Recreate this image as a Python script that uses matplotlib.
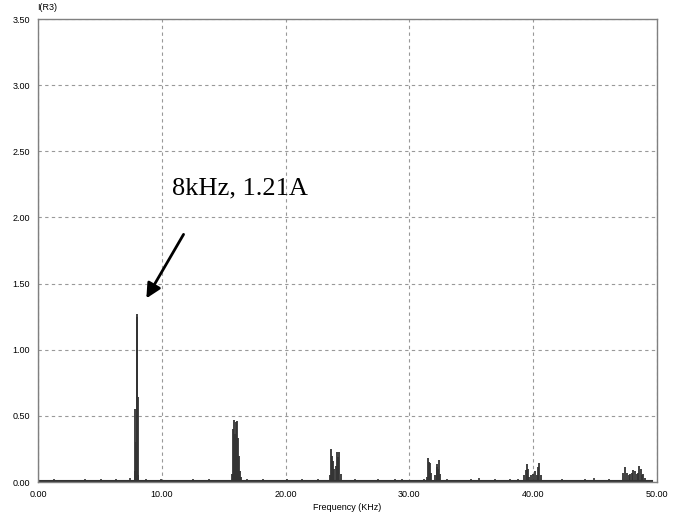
import matplotlib
matplotlib.use("Agg")
import matplotlib.pyplot as plt

# spectrum of I(R3): spikes
dc_freq = [0.03]
dc_amp = [3.17]

peak_freq = [7.80, 7.86, 7.92, 7.96, 8.00, 8.04, 8.10,
             15.70, 15.78, 15.85, 15.92, 16.00, 16.05, 16.12, 16.20, 16.30, 16.40,
             23.55, 23.64, 23.72, 23.80, 23.90, 24.05, 24.18, 24.26, 24.34, 24.45,
             31.45, 31.53, 31.60, 31.66, 31.75, 32.10, 32.20, 32.25, 32.33, 32.41, 32.50,
             39.28, 39.40, 39.47, 39.55, 39.65, 39.85, 40.00, 40.17, 40.30, 40.42, 40.50, 40.60,
             47.28, 47.41, 47.55, 47.70, 47.85, 47.95, 48.08, 48.22, 48.35, 48.45, 48.57, 48.68,
             48.80, 48.90, 49.00]
peak_amp = [0.08, 0.55, 0.30, 1.27, 1.25, 0.64, 0.05,
            0.06, 0.40, 0.47, 0.36, 0.45, 0.46, 0.33, 0.20, 0.08, 0.04,
            0.05, 0.25, 0.20, 0.16, 0.10, 0.12, 0.23, 0.19, 0.23, 0.06,
            0.04, 0.18, 0.15, 0.14, 0.07, 0.05, 0.11, 0.135, 0.10, 0.17, 0.06,
            0.05, 0.09, 0.136, 0.10, 0.04, 0.05, 0.06, 0.08, 0.05, 0.11, 0.14, 0.05,
            0.07, 0.11, 0.07, 0.05, 0.06, 0.07, 0.09, 0.08, 0.06, 0.07, 0.12, 0.10,
            0.05, 0.06, 0.03]

noise_freq = [0.6, 1.3, 1.9, 2.5, 3.2, 3.8, 4.4, 5.1, 5.7, 6.3, 6.9, 7.4, 8.7, 9.3, 9.9,
              10.6, 11.2, 11.9, 12.5, 13.1, 13.8, 14.4, 15.0, 16.9, 17.5, 18.2, 18.8, 19.4,
              20.1, 20.7, 21.3, 22.0, 22.6, 23.2, 25.0, 25.6, 26.3, 26.9, 27.5, 28.2, 28.8,
              29.4, 30.1, 30.7, 31.2, 33.0, 33.7, 34.3, 35.0, 35.6, 36.2, 36.9, 37.5, 38.1,
              38.8, 41.0, 41.7, 42.3, 43.0, 43.6, 44.2, 44.9, 45.5, 46.1, 46.8, 49.4]
noise_amp = [0.015, 0.02, 0.012, 0.018, 0.01, 0.022, 0.015, 0.02, 0.012, 0.025, 0.018, 0.03,
             0.02, 0.015, 0.025, 0.012, 0.018, 0.01, 0.02, 0.015, 0.022, 0.012, 0.018, 0.025,
             0.015, 0.02, 0.012, 0.018, 0.022, 0.015, 0.02, 0.012, 0.025, 0.018, 0.015, 0.02,
             0.012, 0.018, 0.022, 0.015, 0.02, 0.025, 0.018, 0.015, 0.02, 0.025, 0.012, 0.018,
             0.02, 0.03, 0.015, 0.02, 0.018, 0.022, 0.025, 0.015, 0.012, 0.02, 0.018, 0.015,
             0.02, 0.03, 0.015, 0.02, 0.018, 0.012]

baseline_freq = [0.0, 49.6]
baseline_amp = [0.006, 0.006]

xticks = [0, 10, 20, 30, 40, 50]
yticks = [0, 0.5, 1.0, 1.5, 2.0, 2.5, 3.0, 3.5]

fig = plt.figure(figsize=(6.78, 5.2), dpi=100)
ax = fig.add_axes([38/678, 38/520, 619/678, 463/520])

line_col = "#333333"
ax.plot(baseline_freq, baseline_amp, color=line_col, lw=1.5)
ax.vlines(noise_freq, 0, noise_amp, color=line_col, lw=1.2)
ax.vlines(peak_freq, 0, peak_amp, color=line_col, lw=1.3)
ax.vlines(dc_freq, 0, dc_amp, color=line_col, lw=1.5)

ax.set_xlim(0, 50)
ax.set_ylim(0, 3.5)
ax.set_xticks(xticks)
ax.set_yticks(yticks)
ax.set_xticklabels(["%.2f" % v for v in xticks])
ax.set_yticklabels(["%.2f" % v for v in yticks])
ax.tick_params(length=0, labelsize=6.5, pad=6)
for lab in ax.get_xticklabels() + ax.get_yticklabels():
    lab.set_family("Liberation Sans")
ax.grid(True, color="#999999", ls=(0, (3, 3)), lw=0.8)
ax.set_axisbelow(True)
for s in ax.spines.values():
    s.set_color("#808080")
    s.set_linewidth(1)

ax.set_xlabel("Frequency (KHz)", family="Liberation Sans", fontsize=6.5, labelpad=3)
fig.text(37/678, 1 - 8/520, "I(R3)", family="Liberation Sans", fontsize=6.5,
         ha="left", va="center")

ax.annotate("", xy=(8.64, 1.37), xytext=(11.87, 1.89),
            arrowprops=dict(arrowstyle="-|>", color="black", lw=2, mutation_scale=22))
ax.text(10.82, 2.17, "8kHz, 1.21A", family="Liberation Serif", fontsize=19)

fig.savefig("out.png", dpi=100)
